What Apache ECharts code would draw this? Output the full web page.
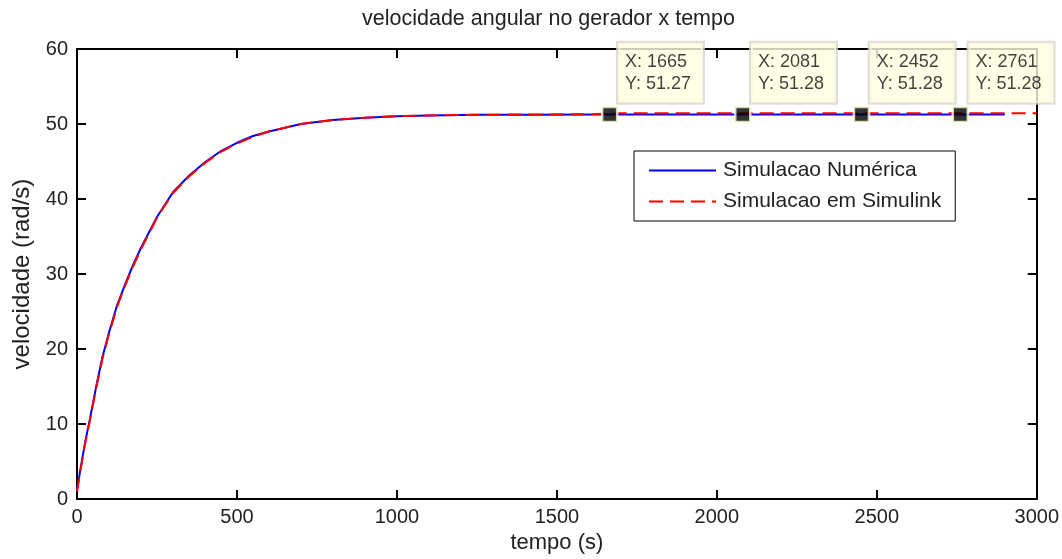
<!DOCTYPE html>
<html>
<head>
<meta charset="utf-8">
<script src="https://cdn.jsdelivr.net/npm/echarts@6/dist/echarts.min.js"></script>
<style>
  html, body { margin: 0; padding: 0; background: #fff; }
  #main { width: 1062px; height: 559px; }
</style>
</head>
<body>
<div id="main"></div>
<script>
// velocidade angular no gerador x tempo

// tempo (s) e velocidade (rad/s)
var tempoNum = [0, 10, 25, 40, 60, 80, 100, 125, 150, 175, 200, 250, 300, 350, 400, 450, 500, 550, 600, 700, 800, 900, 1000, 1100, 1250, 1400, 1665, 2081, 2452, 2761, 2900];
var velNum   = [1.2, 3.8, 7.5, 10.6, 15.0, 19.0, 22.2, 25.8, 28.6, 31.2, 33.5, 37.6, 40.9, 43.1, 44.9, 46.4, 47.5, 48.4, 49.0, 50.0, 50.55, 50.85, 51.05, 51.15, 51.22, 51.25, 51.27, 51.28, 51.28, 51.28, 51.28];

var tempoSim = [0, 10, 25, 40, 60, 80, 100, 125, 150, 175, 200, 250, 300, 350, 400, 450, 500, 550, 600, 700, 800, 900, 1000, 1100, 1250, 1400, 1600, 1700, 2100, 2500, 3000];
var velSim   = [1.0, 3.6, 7.3, 10.4, 14.8, 18.8, 22.0, 25.6, 28.4, 31.0, 33.3, 37.5, 40.8, 43.0, 44.8, 46.3, 47.4, 48.3, 49.0, 50.0, 50.55, 50.85, 51.05, 51.15, 51.22, 51.27, 51.3, 51.42, 51.42, 51.42, 51.42];

// datatips
var tipX = [1665, 2081, 2452, 2761];
var tipY = [51.27, 51.28, 51.28, 51.28];

var xTicks = { min: 0, max: 3000, interval: 500 };
var yTicks = { min: 0, max: 60, interval: 10 };

var fonte = "'Liberation Sans', Arial, sans-serif";

function zip(a, b) {
  var out = [];
  for (var i = 0; i < a.length; i++) out.push([a[i], b[i]]);
  return out;
}

var eixoLinha = { show: true, onZero: false, lineStyle: { color: '#000', width: 2 } };
var eixoTick = { show: true, inside: true, length: 9, lineStyle: { color: '#000', width: 2 } };

var myChart = echarts.init(document.getElementById('main'));
var option = {
  animation: false,
  backgroundColor: '#fff',
  title: {
    text: 'velocidade angular no gerador x tempo',
    left: 362,
    top: 8,
    padding: 0,
    textStyle: { fontFamily: fonte, fontSize: 21.5, fontWeight: 'normal', color: '#222' }
  },
  grid: { left: 77, top: 49, right: 25, bottom: 57, containLabel: false },
  legend: {
    data: ['Simulacao Numérica', 'Simulacao em Simulink'],
    orient: 'vertical',
    left: 634,
    top: 151,
    padding: [9, 14, 9, 14],
    itemGap: 10,
    itemWidth: 67,
    itemHeight: 22,
    itemStyle: { opacity: 0 },
    borderColor: '#000',
    borderWidth: 1,
    borderRadius: 0,
    backgroundColor: '#fff',
    textStyle: { fontFamily: fonte, fontSize: 21, color: '#222', padding: [0, 0, 0, 2] }
  },
  xAxis: [
    {
      type: 'value', position: 'bottom',
      min: xTicks.min, max: xTicks.max, interval: xTicks.interval,
      name: 'tempo (s)', nameLocation: 'middle', nameGap: 31,
      nameTextStyle: { fontFamily: fonte, fontSize: 22, color: '#222' },
      axisLine: eixoLinha, axisTick: eixoTick, splitLine: { show: false },
      axisLabel: { margin: 8, fontFamily: fonte, fontSize: 20, color: '#222', formatter: function (v) { return String(v); } }
    },
    {
      type: 'value', position: 'top',
      min: xTicks.min, max: xTicks.max, interval: xTicks.interval,
      axisLine: eixoLinha, axisTick: eixoTick, splitLine: { show: false },
      axisLabel: { show: false }
    }
  ],
  yAxis: [
    {
      type: 'value', position: 'left',
      min: yTicks.min, max: yTicks.max, interval: yTicks.interval,
      name: 'velocidade (rad/s)', nameLocation: 'middle', nameGap: 39, nameRotate: 90,
      nameTextStyle: { fontFamily: fonte, fontSize: 24, color: '#222' },
      axisLine: eixoLinha, axisTick: eixoTick, splitLine: { show: false },
      axisLabel: { margin: 9, fontFamily: fonte, fontSize: 20, color: '#222' }
    },
    {
      type: 'value', position: 'right',
      min: yTicks.min, max: yTicks.max, interval: yTicks.interval,
      axisLine: eixoLinha, axisTick: eixoTick, splitLine: { show: false },
      axisLabel: { show: false }
    }
  ],
  series: [
    {
      name: 'Simulacao Numérica',
      type: 'line',
      data: zip(tempoNum, velNum),
      showSymbol: false,
      symbol: 'none',
      lineStyle: { color: '#0000ff', width: 2 },
      itemStyle: { color: '#0000ff' },
      z: 2
    },
    {
      name: 'Simulacao em Simulink',
      type: 'line',
      data: zip(tempoSim, velSim),
      showSymbol: false,
      symbol: 'none',
      lineStyle: { color: '#ff0000', width: 2, type: [14, 7] },
      itemStyle: { color: '#ff0000' },
      z: 3
    },
    {
      name: 'datatip',
      type: 'scatter',
      data: zip(tipX, tipY),
      symbol: 'rect',
      symbolSize: 15,
      clip: false,
      itemStyle: { color: '#000', borderColor: '#ffffdc', borderWidth: 2.5 },
      label: {
        show: true,
        position: [17, -63],
        formatter: function (p) {
          return 'X: ' + p.value[0] + '\nY: ' + p.value[1].toFixed(2);
        },
        fontFamily: fonte,
        fontSize: 18,
        lineHeight: 22,
        color: '#111',
        backgroundColor: '#ffffe1',
        borderColor: '#d6d6cc',
        borderWidth: 2,
        padding: [8, 7, 8, 7],
        width: 71,
        align: 'left'
      },
      emphasis: { disabled: true },
      z: 5
    }
  ]
};

myChart.setOption(option);
</script>
</body>
</html>
